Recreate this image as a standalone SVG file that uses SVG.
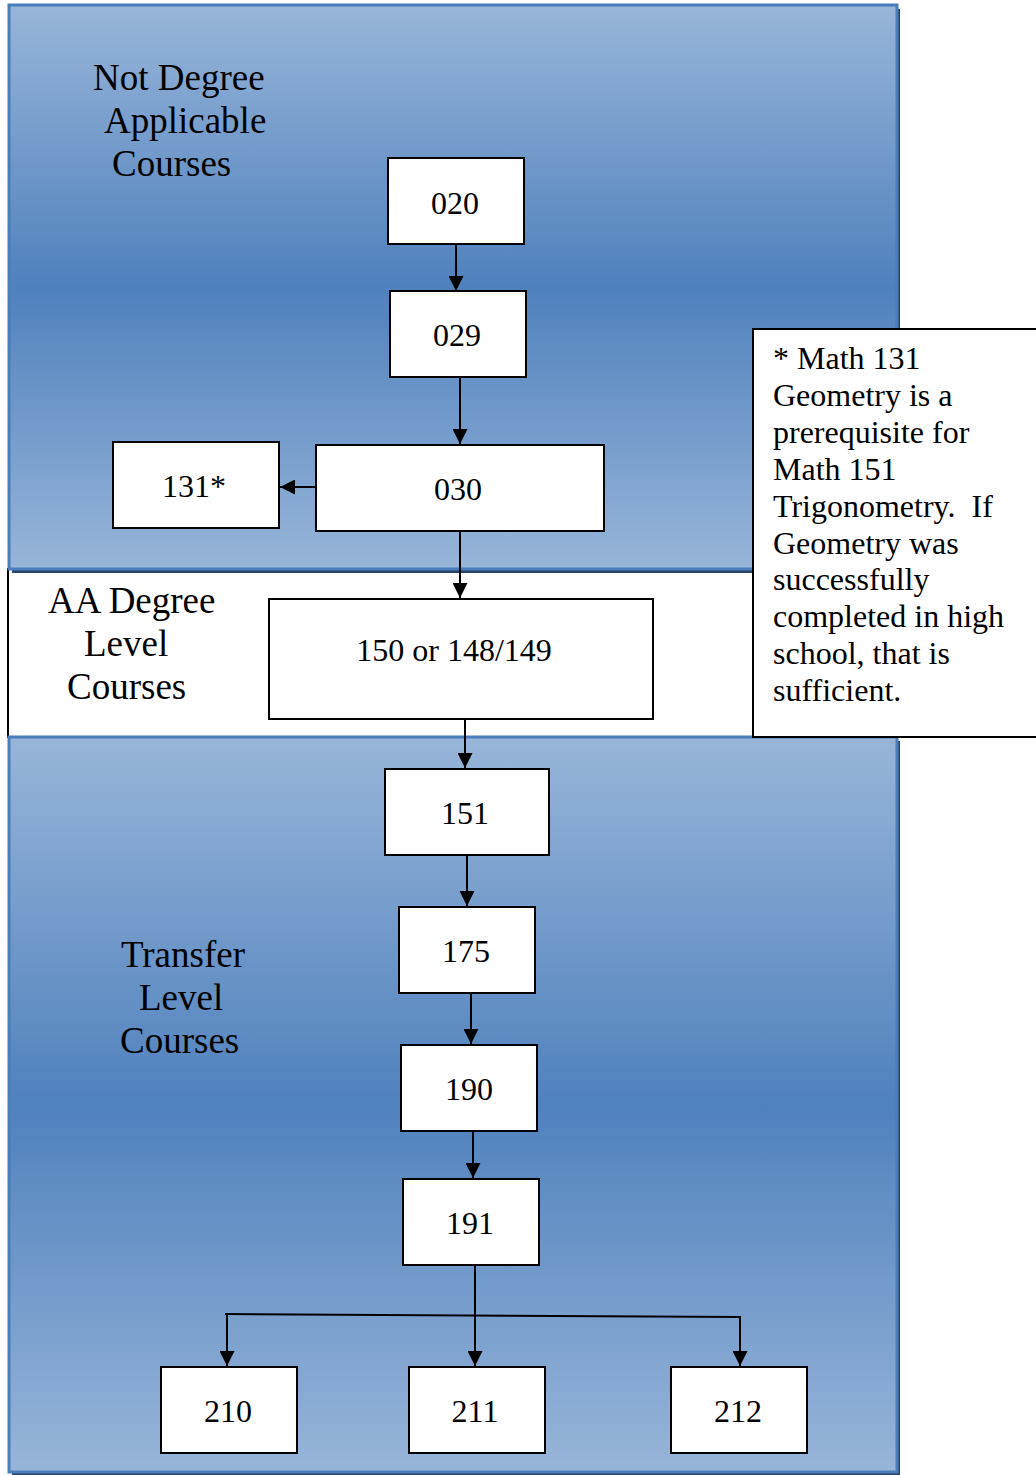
<svg xmlns="http://www.w3.org/2000/svg" width="1036" height="1475" viewBox="0 0 1036 1475">
<defs>
<linearGradient id="bandGrad" x1="0" y1="0" x2="0" y2="1">
<stop offset="0" stop-color="#98b5d9"/>
<stop offset="0.5" stop-color="#4f81bd"/>
<stop offset="1" stop-color="#98b5d9"/>
</linearGradient>
<marker id="arrow" viewBox="0 0 10 10" refX="10" refY="5" markerWidth="15" markerHeight="15" markerUnits="userSpaceOnUse" orient="auto">
<path d="M0,0 L10,5 L0,10 z" fill="#000"/>
</marker>
<style>
.band{fill:url(#bandGrad);stroke:#4a7dbb;stroke-width:3}
.shadow{fill:#27456b}
.box{fill:#fff;stroke:#000;stroke-width:2}
.lbl{font-family:"Liberation Serif","Times New Roman",serif;font-size:32px;fill:#000;text-anchor:middle}
.band-lbl{font-family:"Liberation Serif","Times New Roman",serif;font-size:37px;fill:#000}
.note{font-family:"Liberation Serif","Times New Roman",serif;font-size:32px;fill:#000}
.conn{fill:none;stroke:#000;stroke-width:2}
.arr{marker-end:url(#arrow)}
</style>
</defs>
<rect width="1036" height="1475" fill="#fff"/>

<g id="band-aa">
<rect x="8" y="569" width="900" height="168" fill="#fff" stroke="#000" stroke-width="2"/>
<text class="band-lbl" x="48" y="613">AA Degree</text>
<text class="band-lbl" x="84" y="656">Level</text>
<text class="band-lbl" x="67" y="699">Courses</text>
</g>

<g id="band-transfer">
<rect class="shadow" x="12" y="741" width="888" height="736"/>
<rect class="band" x="9" y="737" width="888" height="735"/>
<text class="band-lbl" x="121" y="967">Transfer</text>
<text class="band-lbl" x="139" y="1010">Level</text>
<text class="band-lbl" x="120" y="1053">Courses</text>
</g>

<g id="band-not-degree">
<rect class="shadow" x="12" y="9" width="888" height="564"/>
<rect class="band" x="9" y="5" width="888" height="564"/>
<text class="band-lbl" x="93" y="90">Not Degree</text>
<text class="band-lbl" x="104" y="133">Applicable</text>
<text class="band-lbl" x="112" y="176">Courses</text>
</g>

<g id="connectors">
<path class="conn arr" d="M456,244 V291"/>
<path class="conn arr" d="M460,377 V444"/>
<path class="conn arr" d="M316,487 H280"/>
<path class="conn arr" d="M460,531 V598"/>
<path class="conn arr" d="M465,719 V768"/>
<path class="conn arr" d="M467,855 V906"/>
<path class="conn arr" d="M471,993 V1044"/>
<path class="conn arr" d="M473,1131 V1178"/>
<path class="conn" d="M475,1265 V1315"/>
<path class="conn" d="M225,1314 L741,1317"/>
<path class="conn arr" d="M227,1314 V1366"/>
<path class="conn arr" d="M475,1315 V1366"/>
<path class="conn arr" d="M740,1317 V1366"/>
</g>

<g id="node-020"><rect class="box" x="388" y="158" width="136" height="86"/><text class="lbl" x="455" y="214">020</text></g>
<g id="node-029"><rect class="box" x="390" y="291" width="136" height="86"/><text class="lbl" x="457" y="346">029</text></g>
<g id="node-131"><rect class="box" x="113" y="442" width="166" height="86"/><text class="lbl" x="194" y="497">131*</text></g>
<g id="node-030"><rect class="box" x="316" y="445" width="288" height="86"/><text class="lbl" x="458" y="500">030</text></g>
<g id="node-150"><rect class="box" x="269" y="599" width="384" height="120"/><text class="lbl" x="454" y="661">150 or 148/149</text></g>
<g id="node-151"><rect class="box" x="385" y="769" width="164" height="86"/><text class="lbl" x="465" y="824">151</text></g>
<g id="node-175"><rect class="box" x="399" y="907" width="136" height="86"/><text class="lbl" x="466" y="962">175</text></g>
<g id="node-190"><rect class="box" x="401" y="1045" width="136" height="86"/><text class="lbl" x="469" y="1100">190</text></g>
<g id="node-191"><rect class="box" x="403" y="1179" width="136" height="86"/><text class="lbl" x="470" y="1234">191</text></g>
<g id="node-210"><rect class="box" x="161" y="1367" width="136" height="86"/><text class="lbl" x="228" y="1422">210</text></g>
<g id="node-211"><rect class="box" x="409" y="1367" width="136" height="86"/><text class="lbl" x="475" y="1422">211</text></g>
<g id="node-212"><rect class="box" x="671" y="1367" width="136" height="86"/><text class="lbl" x="738" y="1422">212</text></g>

<g id="note">
<rect class="box" x="753" y="329" width="292" height="408"/>
<text class="note" xml:space="preserve">
<tspan x="773" y="369">* Math 131</tspan>
<tspan x="773" y="406">Geometry is a</tspan>
<tspan x="773" y="443">prerequisite for</tspan>
<tspan x="773" y="480">Math 151</tspan>
<tspan x="773" y="517">Trigonometry.  If</tspan>
<tspan x="773" y="554">Geometry was</tspan>
<tspan x="773" y="590">successfully</tspan>
<tspan x="773" y="627">completed in high</tspan>
<tspan x="773" y="664">school, that is</tspan>
<tspan x="773" y="701">sufficient.</tspan>
</text>
</g>
</svg>
